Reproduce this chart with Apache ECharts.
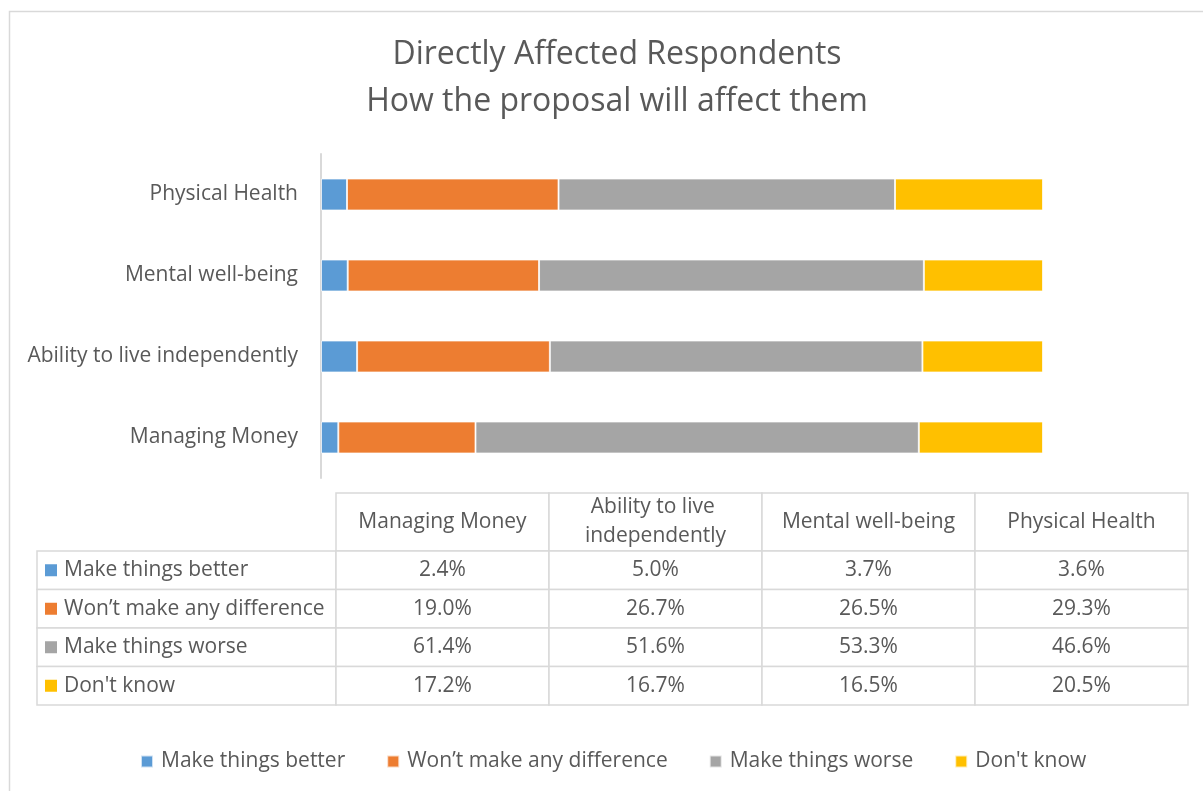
<!DOCTYPE html>
<html>
<head>
<meta charset="utf-8">
<script src="https://cdn.jsdelivr.net/npm/echarts@6/dist/echarts.min.js"></script>
<style>
html,body{margin:0;padding:0;background:#fff;}
#chart{width:1203px;height:791px;}
</style>
</head>
<body>
<div id="chart"></div>
<script>
// ---- data ----
const titleLines = ['Directly Affected Respondents', 'How the proposal will affect them'];
const categories = ['Managing Money', 'Ability to live independently', 'Mental well-being', 'Physical Health'];
const seriesNames = ['Make things better', 'Won\u2019t make any difference', 'Make things worse', "Don't know"];
const makeBetter = [2.4, 5.0, 3.7, 3.6];
const noDifference = [19.0, 26.7, 26.5, 29.3];
const makeWorse = [61.4, 51.6, 53.3, 46.6];
const dontKnow = [17.2, 16.7, 16.5, 20.5];
const colors = ['#5b9bd5', '#ed7d31', '#a5a5a5', '#ffc000'];

const seriesValues = [makeBetter, noDifference, makeWorse, dontKnow];

// ---- layout constants ----
const FONT = '"Open Sans", "Noto Sans", sans-serif';
const TEXT = '#595959';
const BORDER = '#d9d9d9';
const HEADER_H = 58;
const LABEL_W = 299;
const FS = 21;

const chart = echarts.init(document.getElementById('chart'), null, {renderer: 'canvas'});

// table cell items
const tableData = [];
categories.forEach((c, ci) => tableData.push({value: [ci, 0], kind: 'header', text: c}));
seriesNames.forEach((s, si) => tableData.push({value: [0, si], kind: 'label', text: s, color: colors[si]}));
seriesValues.forEach((vals, si) => vals.forEach((v, ci) =>
  tableData.push({value: [ci, si], kind: 'cell', text: v.toFixed(1) + '%'})));

function renderCell(params, api) {
  const item = tableData[params.dataIndex];
  const p = api.coord([api.value(0), api.value(1)]);
  const sz = api.size([1, 1]);
  const w = sz[0], h = sz[1];
  let x = p[0] - w / 2, y = p[1] - h / 2, cw = w, ch = h;
  const rectStyle = {fill: '#fff', stroke: BORDER, lineWidth: 1.5};
  const txtStyle = {fill: TEXT, fontFamily: FONT, fontSize: FS};
  if (item.kind === 'header') {
    y = y - HEADER_H; ch = HEADER_H;
    return {type: 'group', children: [
      {type: 'rect', shape: {x: x, y: y, width: cw, height: ch}, style: rectStyle},
      {type: 'text', style: Object.assign({}, txtStyle, {
        text: item.text, x: x + cw / 2, y: y + ch / 2, align: 'center', verticalAlign: 'middle',
        width: cw - 30, overflow: 'break', lineHeight: 29})}
    ]};
  }
  if (item.kind === 'label') {
    x = x - LABEL_W; cw = LABEL_W;
    return {type: 'group', children: [
      {type: 'rect', shape: {x: x, y: y, width: cw, height: ch}, style: rectStyle},
      {type: 'rect', shape: {x: x + 8, y: y + ch / 2 - 6, width: 12, height: 12}, style: {fill: item.color}},
      {type: 'text', style: Object.assign({}, txtStyle, {
        text: item.text, x: x + 27, y: y + ch / 2, align: 'left', verticalAlign: 'middle'})}
    ]};
  }
  return {type: 'group', children: [
    {type: 'rect', shape: {x: x, y: y, width: cw, height: ch}, style: rectStyle},
    {type: 'text', style: Object.assign({}, txtStyle, {
      text: item.text, x: x + cw / 2, y: y + ch / 2, align: 'center', verticalAlign: 'middle'})}
  ]};
}

const barSeries = seriesNames.map((name, si) => ({
  name: name,
  type: 'bar',
  stack: 'total',
  xAxisIndex: 0,
  yAxisIndex: 0,
  barWidth: 32,
  itemStyle: {color: colors[si], borderColor: 'rgba(255,255,255,0.7)', borderWidth: 1},
  emphasis: {disabled: true},
  data: seriesValues[si]
}));

const option = {
  animation: false,
  backgroundColor: '#fff',
  title: {
    text: titleLines.join('\n'),
    left: 612,
    textAlign: 'center',
    top: 26,
    textStyle: {fontFamily: FONT, fontSize: 32, fontWeight: 'normal', color: TEXT, lineHeight: 47}
  },
  legend: {
    data: seriesNames,
    left: 135,
    top: 746,
    itemWidth: 12,
    itemHeight: 12,
    itemGap: 41,
    icon: 'rect',
    textStyle: {fontFamily: FONT, fontSize: FS, color: TEXT, padding: [0, 0, 0, 3]},
    selectedMode: false
  },
  graphic: [{
    type: 'rect', left: 7, top: 9, z: -10,
    shape: {width: 1300, height: 900},
    style: {fill: 'none', stroke: BORDER, lineWidth: 1.5}
  }],
  grid: [
    {left: 321, right: 160, top: 154, bottom: 313, containLabel: false},
    {left: 336, right: 15, top: 551, bottom: 86, containLabel: false}
  ],
  xAxis: [
    {type: 'value', gridIndex: 0, min: 0, max: 100, show: false},
    {type: 'category', gridIndex: 1, data: categories, show: false}
  ],
  yAxis: [
    {type: 'category', gridIndex: 0, data: categories,
     axisLine: {show: true, lineStyle: {color: BORDER, width: 2}},
     axisTick: {show: false},
     axisLabel: {fontFamily: FONT, fontSize: FS, color: TEXT, margin: 23}},
    {type: 'category', gridIndex: 1, data: seriesNames, inverse: true, show: false}
  ],
  series: barSeries.concat([{
    type: 'custom',
    xAxisIndex: 1,
    yAxisIndex: 1,
    renderItem: renderCell,
    data: tableData.map(d => d.value),
    silent: true
  }])
};
chart.setOption(option);
</script>
</body>
</html>
